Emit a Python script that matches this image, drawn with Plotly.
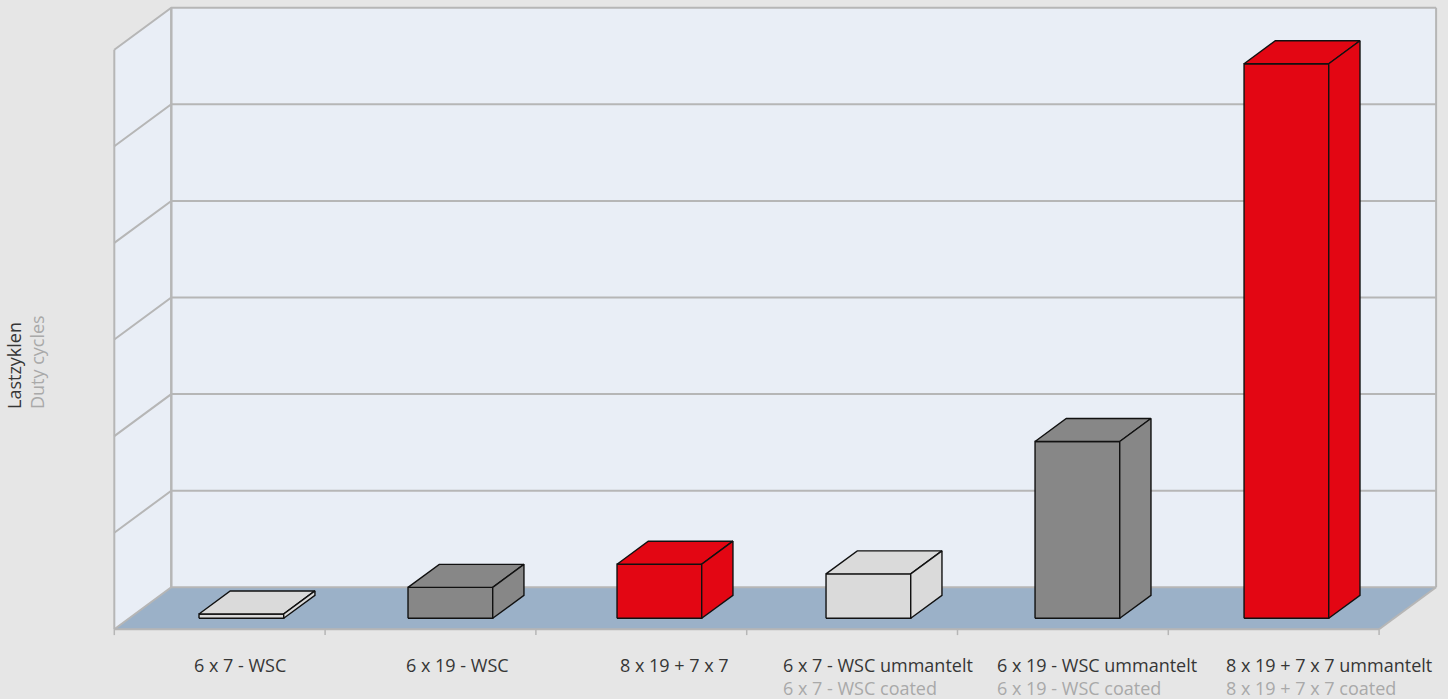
import plotly.graph_objects as go

# ---------------- data ----------------
categories = ["6 x 7 - WSC", "6 x 19 - WSC", "8 x 19 + 7 x 7",
              "6 x 7 - WSC ummantelt", "6 x 19 - WSC ummantelt", "8 x 19 + 7 x 7 ummantelt"]
subtitles = ["", "", "", "6 x 7 - WSC coated", "6 x 19 - WSC coated", "8 x 19 + 7 x 7 coated"]
duty_cycles = [4.5, 32, 56, 46, 183, 574]          # relative duty cycles (grid step = 100)
grid_values = [0, 100, 200, 300, 400, 500, 600]
bar_colors = ["#dadada", "#878787", "#e30613", "#dadada", "#878787", "#e30613"]

# ---------------- layout constants ----------------
W, H = 1448, 699
PX_X = 210.8          # px per category
PX_Y = 0.966          # px per value unit
X0_PX, Y0_PX = 114.3, 629.3
DEPTH = (57 / PX_X, 42 / PX_Y)   # projection of full depth in data units
N = len(categories)
YMAX = grid_values[-1]
SLOT = 0.9915
BAR_OFF = 0.331
BAR_W = 0.4018
Z0, Z1 = 0.262, 0.81
LABEL_LEFT_PX = [192.0, 403.5, 617.5, 780.5, 994.5, 1223.5]

WALL = "#e9eef6"
FLOOR = "#9bb1c8"
GRID = "#b6b6b6"
BG = "#e6e6e6"


def proj(x, y, z):
    return x + z * DEPTH[0], y + z * DEPTH[1]


def poly(points, fill, line_color=None, width=0):
    xs, ys = zip(*[proj(*p) for p in points])
    xs = list(xs) + [xs[0]]
    ys = list(ys) + [ys[0]]
    return go.Scatter(x=xs, y=ys, mode="lines", fill="toself", fillcolor=fill,
                      line=dict(color=line_color or fill, width=width),
                      hoverinfo="skip", showlegend=False)


def line(points, color=GRID, width=2):
    xs, ys = zip(*[proj(*p) for p in points])
    return go.Scatter(x=list(xs), y=list(ys), mode="lines",
                      line=dict(color=color, width=width),
                      hoverinfo="skip", showlegend=False)


fig = go.Figure()

# walls and floor
fig.add_trace(poly([(0, 0, 1), (N, 0, 1), (N, YMAX, 1), (0, YMAX, 1)], WALL))
fig.add_trace(poly([(0, 0, 0), (0, 0, 1), (0, YMAX, 1), (0, YMAX, 0)], WALL))
fig.add_trace(poly([(0, 0, 0), (N, 0, 0), (N, 0, 1), (0, 0, 1)], FLOOR))

# grid lines
for g in grid_values:
    fig.add_trace(line([(0, g, 0), (0, g, 1), (N, g, 1)]))
# vertical edges
fig.add_trace(line([(0, 0, 0), (0, YMAX, 0)]))
fig.add_trace(line([(0, 0, 1), (0, YMAX, 1)], width=2.5))
fig.add_trace(line([(N, 0, 1), (N, YMAX, 1)]))
# floor front edge and right edge
fig.add_trace(line([(0, 0, 0), (N, 0, 0)]))
fig.add_trace(line([(N, 0, 0), (N, 0, 1)]))
# ticks
for i in range(N + 1):
    fig.add_trace(line([(i, 0, 0), (i, -6, 0)], width=1.5))

# bars
for i, (v, c) in enumerate(zip(duty_cycles, bar_colors)):
    xl = i * SLOT + BAR_OFF
    xr = xl + BAR_W
    fig.add_trace(poly([(xl, 0, Z0), (xr, 0, Z0), (xr, v, Z0), (xl, v, Z0)], c, "#111111", 1.4))
    fig.add_trace(poly([(xl, v, Z0), (xr, v, Z0), (xr, v, Z1), (xl, v, Z1)], c, "#111111", 1.4))
    fig.add_trace(poly([(xr, 0, Z0), (xr, 0, Z1), (xr, v, Z1), (xr, v, Z0)], c, "#111111", 1.4))

# category labels
for i, (cat, sub) in enumerate(zip(categories, subtitles)):
    txt = cat
    if sub:
        txt += "<br><span style='color:#a9a9a9'>" + sub + "</span>"
    fig.add_annotation(x=(LABEL_LEFT_PX[i] - X0_PX) / PX_X, y=-(651 - Y0_PX) / PX_Y,
                       text=txt, showarrow=False, xanchor="left", yanchor="top",
                       align="left", font=dict(family="Open Sans", size=18, color="#363636"))

# y-axis title
fig.add_annotation(x=(25 - X0_PX) / PX_X, y=(Y0_PX - 362) / PX_Y,
                   text="Lastzyklen<br><span style='color:#a9a9a9'>Duty cycles</span>",
                   textangle=-90, showarrow=False, xanchor="center", yanchor="middle",
                   align="left", font=dict(family="Open Sans", size=18, color="#363636"))

fig.update_layout(
    width=W, height=H, autosize=False,
    margin=dict(l=0, r=0, t=0, b=0),
    paper_bgcolor=BG, plot_bgcolor=BG,
    showlegend=False,
    xaxis=dict(range=[-X0_PX / PX_X, (W - X0_PX) / PX_X], visible=False, fixedrange=True),
    yaxis=dict(range=[-(H - Y0_PX) / PX_Y, Y0_PX / PX_Y], visible=False, fixedrange=True),
)

fig.write_html("out.html", config={"displayModeBar": False},
               post_script="document.body.style.margin='0';"
                           "document.body.style.background='#e6e6e6';"
                           "document.body.style.overflow='hidden';")
